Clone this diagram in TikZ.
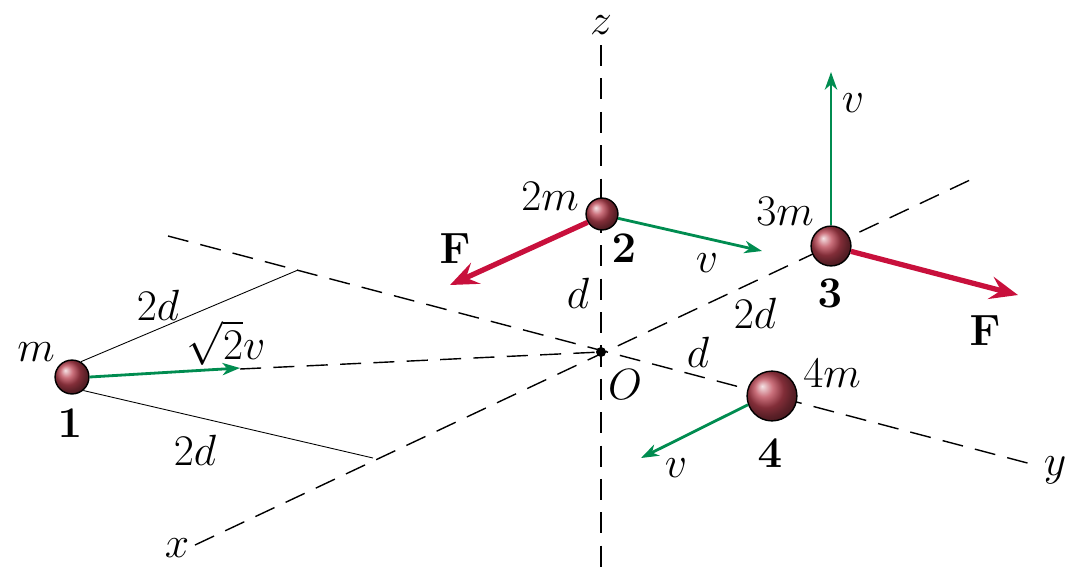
\documentclass[tikz,border=0pt]{standalone}
\usetikzlibrary{arrows.meta}
\begin{document}
\begin{tikzpicture}[x=0.02cm,y=-0.02cm,
  axis/.style={dashed,dash pattern=on 12pt off 7pt,line width=0.8pt},
  thin line/.style={line width=0.5pt},
  vel/.style={draw=vgreen,line width=1.6pt,-{Stealth[length=10pt,width=7pt,inset=3pt]}},
  force/.style={draw=fred,line width=3pt,-{Stealth[length=16pt,width=13pt,inset=6pt]}},
  lab/.style={font=\Huge},
  ball/.style={circle,shading=ball,ball color=bred,draw=black,line width=0.8pt,inner sep=0pt}]
\definecolor{fred}{RGB}{200,16,60}
\definecolor{vgreen}{RGB}{0,140,80}
\definecolor{bred}{RGB}{185,65,80}
\useasboundingbox (0,0) rectangle (1089,586);
\coordinate (O) at (601,352);
\coordinate (zt) at (601,45); \coordinate (zb) at (601,575);
\coordinate (xa) at (195,545); \coordinate (xb) at (970,180);
\coordinate (ya) at (168,236); \coordinate (yb) at (1035,465);
\coordinate (t1) at (240,369);
\coordinate (p1) at (298,270); \coordinate (p2) at (373,458);
\draw[axis] (zt) -- (zb);
\draw[axis] (xa) -- (xb);
\draw[axis] (ya) -- (yb);
\draw[axis] (t1) -- (O);
\node[ball,minimum size=34pt*0.02/0.0352778] (b1) at (72,377) {};
\node[ball,minimum size=32pt*0.02/0.0352778] (b2) at (602,214) {};
\node[ball,minimum size=40pt*0.02/0.0352778] (b3) at (831,246) {};
\node[ball,minimum size=50pt*0.02/0.0352778] (b4) at (772,396) {};
\fill (O) circle (5);
\draw[thin line] (b1.60) -- (p1);
\draw[thin line] (b1.-50) -- (p2);
\coordinate (v1) at (240,368);
\draw[vel] (b1.east) -- (v1);
\coordinate (f2) at (450,285); \draw[force] (b2.210) -- (f2);
\coordinate (v2) at (762,251); \draw[vel] (b2.-15) -- (v2);
\coordinate (v3) at (831,72); \draw[vel] (b3.north) -- (v3);
\coordinate (f3) at (1018,295); \draw[force] (b3.-15) -- (f3);
\coordinate (v4) at (641,458); \draw[vel] (b4.200) -- (v4);
\node[lab] (lz) at (601,25) {$z$};
\node[lab] (lx) at (177,548) {$x$};
\node[lab] (ly) at (1055,470) {$y$};
\node[lab] (lm) at (36,352) {$m$};
\node[lab] (l1) at (70,423) {$\mathbf{1}$};
\node[lab] (l2da) at (158,305) {$2d$};
\node[lab] (lsv) at (226,343) {$\sqrt{2}v$};
\node[lab] (l2db) at (195,450) {$2d$};
\node[lab] (l2m) at (550,196) {$2m$};
\node[lab] (l2) at (624,248) {$\mathbf{2}$};
\node[lab] (ld) at (578,293) {$d$};
\node[lab] (lF1) at (455,248) {$\mathbf{F}$};
\node[lab] (lv2) at (707,263) {$v$};
\node[lab] (l3m) at (785,211) {$3m$};
\node[lab] (l3) at (830,293) {$\mathbf{3}$};
\node[lab] (lv3) at (853,103) {$v$};
\node[lab] (lF2) at (985,330) {$\mathbf{F}$};
\node[lab] (l2dc) at (755,313) {$2d$};
\node[lab] (ldd) at (698,352) {$d$};
\node[lab] (lO) at (625,385) {$O$};
\node[lab] (l4m) at (832,373) {$4m$};
\node[lab] (l4) at (770,453) {$\mathbf{4}$};
\node[lab] (lv4) at (676,468) {$v$};
\end{tikzpicture}
\end{document}
